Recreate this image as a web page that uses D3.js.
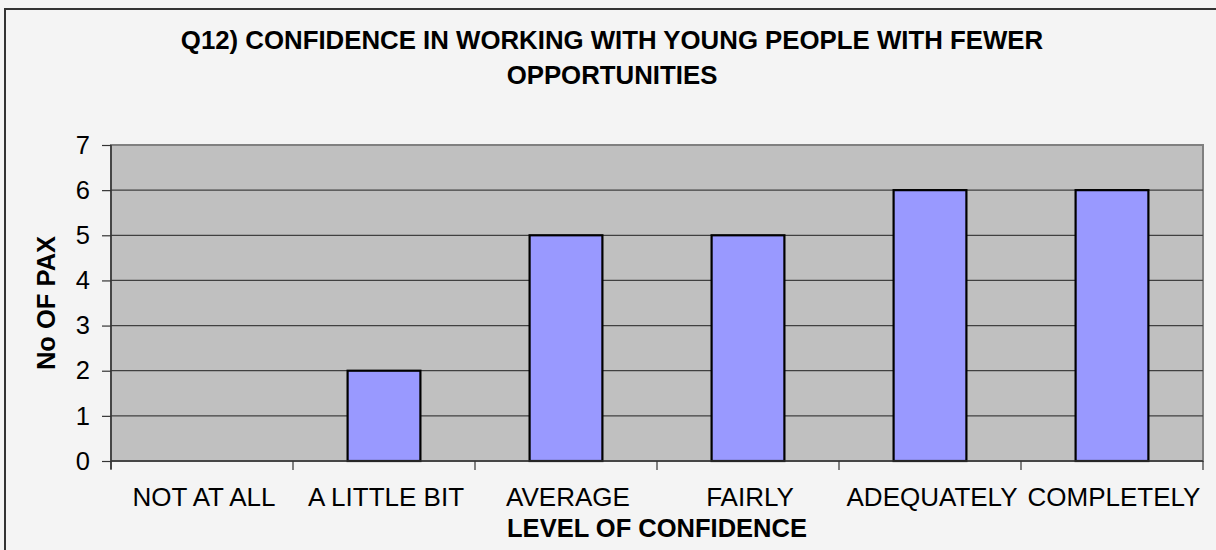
<!DOCTYPE html>
<html>
<head>
<meta charset="utf-8">
<script src="https://cdn.jsdelivr.net/npm/d3@7"></script>
<style>
  html, body { margin: 0; padding: 0; background: #f4f4f4; }
  svg { display: block; }
  text { font-family: Arial, "Liberation Sans", sans-serif; fill: #000; }
</style>
</head>
<body>
<svg id="chart" width="1216" height="550"></svg>
<script>
// Survey answers: number of participants per confidence level
const categories = ["NOT AT ALL", "A LITTLE BIT", "AVERAGE", "FAIRLY", "ADEQUATELY", "COMPLETELY"];
const counts = [0, 2, 5, 5, 6, 6];
const yTicks = [0, 1, 2, 3, 4, 5, 6, 7];
const titleLines = ["Q12) CONFIDENCE IN WORKING WITH YOUNG PEOPLE WITH FEWER", "OPPORTUNITIES"];
const xTitle = "LEVEL OF CONFIDENCE";
const yTitle = "No OF PAX";

const W = 1216, H = 550;
const plot = { left: 111, right: 1203, top: 145, bottom: 461 };

const svg = d3.select("#chart");

// chart frame
svg.append("rect")
  .attr("x", 5).attr("y", 9)
  .attr("width", W + 10).attr("height", H + 10)
  .attr("fill", "#f4f4f4")
  .attr("stroke", "#333").attr("stroke-width", 2);

const x = d3.scaleBand().domain(categories).range([plot.left, plot.right]).padding(0);
const y = d3.scaleLinear().domain([0, 7]).range([plot.bottom, plot.top]);

// plot area
svg.append("rect")
  .attr("x", plot.left).attr("y", plot.top)
  .attr("width", plot.right - plot.left).attr("height", plot.bottom - plot.top)
  .attr("fill", "#c0c0c0")
  .attr("stroke", "#808080").attr("stroke-width", 2);

// horizontal gridlines
svg.append("g")
  .selectAll("line")
  .data(yTicks.filter(t => t > 0 && t < 7))
  .join("line")
  .attr("x1", plot.left).attr("x2", plot.right)
  .attr("y1", d => y(d)).attr("y2", d => y(d))
  .attr("stroke", "#404040").attr("stroke-width", 1.2);

// bars
const bw = x.bandwidth();
svg.append("g")
  .selectAll("rect")
  .data(categories.map((c, i) => ({ c, v: counts[i] })).filter(d => d.v > 0))
  .join("rect")
  .attr("x", d => x(d.c) + bw * 0.3)
  .attr("width", bw * 0.4)
  .attr("y", d => y(d.v))
  .attr("height", d => y(0) - y(d.v))
  .attr("fill", "#9999ff")
  .attr("stroke", "#000").attr("stroke-width", 2.2);

// y axis
const yAxis = svg.append("g")
  .attr("transform", `translate(${plot.left},0)`)
  .call(d3.axisLeft(y).tickValues(yTicks).tickSize(9).tickPadding(12).tickFormat(d3.format("d")));
yAxis.select(".domain").attr("stroke", "#333").attr("stroke-width", 1.5).attr("d", `M0,${plot.top}V${plot.bottom + 8}`);
yAxis.selectAll(".tick line").attr("stroke", "#333").attr("stroke-width", 1.2);
yAxis.selectAll(".tick text").attr("font-size", 25.5).attr("font-family", "Arial, 'Liberation Sans', sans-serif").attr("fill", "#000");

// x axis: ticks sit on the category boundaries
const boundaries = d3.range(categories.length + 1).map(i => plot.left + i * x.step());
const xAxis = svg.append("g");
xAxis.append("line")
  .attr("x1", plot.left).attr("x2", plot.right)
  .attr("y1", plot.bottom).attr("y2", plot.bottom)
  .attr("stroke", "#333").attr("stroke-width", 1.5);
xAxis.selectAll("line.tick")
  .data(boundaries)
  .join("line").attr("class", "tick")
  .attr("x1", d => d).attr("x2", d => d)
  .attr("y1", plot.bottom).attr("y2", plot.bottom + 9)
  .attr("stroke", "#333").attr("stroke-width", 1.2);
xAxis.selectAll("text")
  .data(categories)
  .join("text")
  .attr("x", d => x(d) + bw / 2 + 2)
  .attr("y", 506)
  .attr("text-anchor", "middle")
  .attr("font-size", 26)
  .text(d => d);

// titles
svg.append("g")
  .selectAll("text")
  .data(titleLines)
  .join("text")
  .attr("x", 612)
  .attr("y", (d, i) => 49 + i * 35)
  .attr("text-anchor", "middle")
  .attr("font-size", 25.8)
  .attr("font-weight", "bold")
  .text(d => d);

svg.append("text")
  .attr("x", (plot.left + plot.right) / 2)
  .attr("y", 537)
  .attr("text-anchor", "middle")
  .attr("font-size", 25.5)
  .attr("font-weight", "bold")
  .text(xTitle);

svg.append("text")
  .attr("transform", `translate(55,${(plot.top + plot.bottom) / 2}) rotate(-90)`)
  .attr("text-anchor", "middle")
  .attr("font-size", 25.5)
  .attr("font-weight", "bold")
  .text(yTitle);
</script>
</body>
</html>
